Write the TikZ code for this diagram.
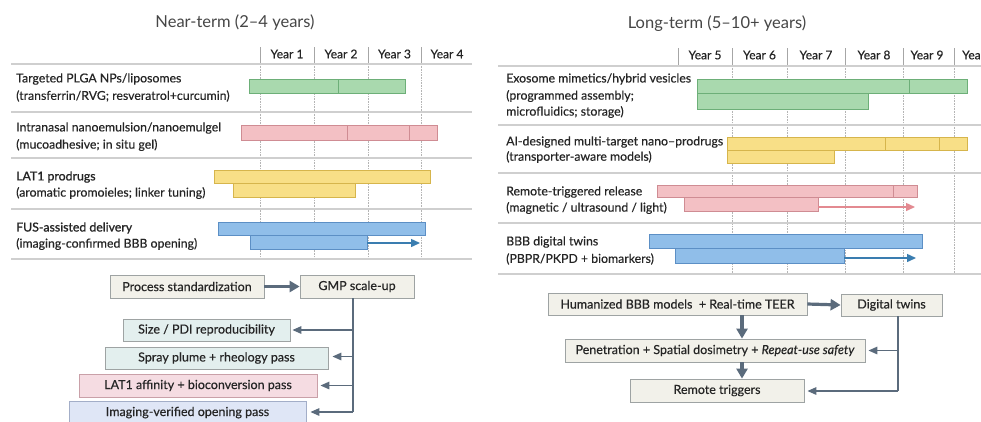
\documentclass[tikz,border=0pt]{standalone}
\usepackage{fontspec}
\setmainfont{Lato}
\newfontfamily\medfont{Lato}[FakeBold=0.35]
\newfontfamily\semifont{Lato}[FakeBold=1.1]
\usetikzlibrary{arrows.meta}
\definecolor{txt}{HTML}{252525}
\definecolor{rule}{HTML}{CFCFCF}
\definecolor{dotc}{HTML}{B5B5B5}
\definecolor{gF}{HTML}{A9D9AE}\definecolor{gD}{HTML}{6DAF78}
\definecolor{pF}{HTML}{F3C0C4}\definecolor{pD}{HTML}{CF8C93}
\definecolor{yF}{HTML}{F8DF87}\definecolor{yD}{HTML}{D6B54C}
\definecolor{bF}{HTML}{90BEE9}\definecolor{bD}{HTML}{5C8FC5}
\definecolor{bA}{HTML}{3A7DB0}\definecolor{pA}{HTML}{E38A91}
\definecolor{flow}{HTML}{5B6B7C}
\definecolor{beige}{HTML}{F2F1EA}\definecolor{boxD}{HTML}{9EA3A3}
\definecolor{teal}{HTML}{E3EFEE}
\definecolor{pinkbox}{HTML}{F5DCE2}\definecolor{pinkD}{HTML}{C9A0A8}
\definecolor{lav}{HTML}{DFE6F6}\definecolor{lavD}{HTML}{A3AEC8}
\tikzset{
  rowtxt/.style={anchor=west, text=txt, font=\medfont\fontsize{12.3}{14}\selectfont, inner sep=0},
  yeartxt/.style={text=txt, font=\medfont\fontsize{12}{14}\selectfont, inner sep=0},
  title/.style={text=txt!85, font=\fontsize{16.5}{19}\selectfont},
  hrule/.style={draw=rule, line width=1.2pt},
  hcol/.style={draw=rule!80!black, line width=0.8pt},
  dotl/.style={draw=dotc, densely dotted, line width=0.6pt},
  gbar/.style={fill=gF, draw=gD, line width=0.7pt},
  pbar/.style={fill=pF, draw=pD, line width=0.7pt},
  ybar/.style={fill=yF, draw=yD, line width=0.7pt},
  bbar/.style={fill=bF, draw=bD, line width=0.7pt},
  barrow/.style={draw=bA, line width=1.4pt, -{Triangle[length=9pt,width=8pt]}},
  parrow/.style={draw=pA, line width=1.4pt, -{Triangle[length=9pt,width=8pt]}},
  flowbox/.style={draw=boxD, line width=0.8pt, fill=beige, text=txt, inner sep=0,
    font=\medfont\fontsize{12.5}{14}\selectfont},
  thick arrow/.style={draw=flow, line width=3.2pt, -{Triangle[length=10pt,width=11pt]}},
  thin arrow/.style={draw=flow, line width=1.5pt, -{Triangle[length=9pt,width=7.5pt]}},
  flowline/.style={draw=flow, line width=1.5pt},
}
\begin{document}
\begin{tikzpicture}[x=1pt,y=-1pt]
\useasboundingbox (0,0) rectangle (981,421);
\fill[white] (0,0) rectangle (981,421);
\clip (0,0) rectangle (981,421);

% ================= LEFT PANEL =================
\node[title] (tl) at (235,23) {Near-term (2–4 years)};
\foreach \x in {260,314,368,421} \draw[hcol] (\x,47) -- (\x,64);
\foreach \x in {260,314,368,421} \draw[dotl] (\x,64) -- (\x,259);
\node[yeartxt] (y1) at (287,54) {Year 1};
\node[yeartxt] (y2) at (341,54) {Year 2};
\node[yeartxt] (y3) at (394.5,54) {Year 3};
\node[yeartxt] (y4) at (447,54) {Year 4};
\draw[hrule] (11,64) -- (472,64);
\foreach \y in {112,158,209,259} \draw[hrule] (11,\y) -- (472,\y);
\node[rowtxt] (l1a) at (16,79) {Targeted PLGA NPs/liposomes};
\node[rowtxt] (l1b) at (16,96) {(transferrin/RVG; resveratrol+curcumin)};
\node[rowtxt] (l2a) at (16,128) {Intranasal nanoemulsion/nanoemulgel};
\node[rowtxt] (l2b) at (16,145) {(mucoadhesive; in situ gel)};
\node[rowtxt] (l3a) at (16,177) {\semifont LAT1 prodrugs};
\node[rowtxt] (l3b) at (16,193) {(aromatic promoieles; linker tuning)};
\node[rowtxt] (l4a) at (16,228) {\semifont FUS-assisted delivery};
\node[rowtxt] (l4b) at (16,244) {(imaging-confirmed BBB opening)};
\draw[gbar] (249,79) rectangle (405,93);
\draw[gD, line width=0.7pt] (338,79) -- (338,93);
\draw[pbar] (241,125) rectangle (437,140);
\draw[pD, line width=0.7pt] (347,125) -- (347,140) (409,125) -- (409,140);
\draw[ybar] (214,170) rectangle (430,183);
\draw[ybar] (233,183) rectangle (355,197);
\draw[bbar] (218,222) rectangle (425,235);
\draw[bbar] (250,235) rectangle (367,249);
\coordinate (la0) at (367,243);
\coordinate (la1) at (420,243);
\draw[barrow] (la0) -- (la1);

\node[flowbox, minimum width=154pt, minimum height=23pt] (proc) at (187,286.5) {Process standardization};
\node[flowbox, minimum width=114pt, minimum height=23pt] (gmp) at (357,286.5) {GMP scale-up};
\draw[thick arrow] (proc.east) -- (gmp.west);
\node[flowbox, fill=teal, minimum width=167pt, minimum height=22pt] (size) at (206.5,330) {Size / PDI reproducibility};
\node[flowbox, fill=teal, minimum width=223pt, minimum height=22pt] (spray) at (216.5,358) {Spray plume + rheology pass};
\node[flowbox, fill=pinkbox, draw=pinkD, minimum width=238pt, minimum height=23pt] (lat) at (198,385.5) {LAT1 affinity + bioconversion pass};
\node[flowbox, fill=lav, draw=lavD, minimum width=237pt, minimum height=23pt, anchor=north] (img) at (187.5,401) {\raisebox{3pt}{Imaging-verified opening pass}};
\coordinate (vl) at (353,412);
\draw[flowline] (gmp.south -| vl) -- (vl);
\draw[thin arrow, shorten >=2pt] (size.east -| vl) -- (size.east);
\draw[thin arrow, shorten >=4pt] ([yshift=1.5pt]spray.east -| vl) -- ([yshift=1.5pt]spray.east);
\draw[thin arrow, shorten >=3pt] (lat.east -| vl) -- (lat.east);
\draw[thin arrow, shorten >=4pt] (vl) -- (vl -| img.east);

% ================= RIGHT PANEL =================
\node[title] (tr) at (717,24) {Long-term (5–10+ years)};
\foreach \x in {678,732,787,845,903,954} \draw[hcol] (\x,48) -- (\x,66);
\foreach \x in {732,787,845,903,954} \draw[dotl] (\x,66) -- (\x,274);
\node[yeartxt] (y5) at (705,55) {Year 5};
\node[yeartxt] (y6) at (759.5,55) {Year 6};
\node[yeartxt] (y7) at (816,55) {Year 7};
\node[yeartxt] (y8) at (874,55) {Year 8};
\node[yeartxt] (y9) at (927,55) {Year 9};
\node[yeartxt, anchor=west] (y10) at (962,55) {Year 10};
\draw[hrule] (498,66) -- (990,66);
\foreach \y in {125,173,223,274} \draw[hrule] (498,\y) -- (990,\y);
\node[rowtxt] (r1a) at (506,79) {Exosome mimetics/hybrid vesicles};
\node[rowtxt] (r1b) at (506,96) {(programmed assembly;};
\node[rowtxt] (r1c) at (506,112) {microfluidics; storage)};
\node[rowtxt] (r2a) at (506,142) {AI-designed multi-target nano–prodrugs};
\node[rowtxt] (r2b) at (506,157) {(transporter-aware models)};
\node[rowtxt] (r3a) at (506,192) {Remote-triggered release};
\node[rowtxt] (r3b) at (506,208) {(magnetic / ultrasound / light)};
\node[rowtxt] (r4a) at (506,242) {BBB digital twins};
\node[rowtxt] (r4b) at (506,259) {(PBPR/PKPD + biomarkers)};
\draw[gbar] (697,79) rectangle (967,93);
\draw[gD, line width=0.7pt] (909,79) -- (909,93);
\draw[gbar] (697,93) rectangle (868,109);
\draw[ybar] (727,137) rectangle (967,150);
\draw[yD, line width=0.7pt] (885,137) -- (885,150) (939,137) -- (939,150);
\draw[ybar] (727,150) rectangle (834,163);
\draw[pbar] (657,185) rectangle (917,197);
\draw[pD, line width=0.7pt] (893,185) -- (893,197);
\draw[pbar] (684,197) rectangle (818,211);
\coordinate (ra0) at (818,207);
\coordinate (ra1) at (915,207);
\draw[parrow] (ra0) -- (ra1);
\draw[bbar] (649,234) rectangle (922,248);
\draw[bbar] (675,248) rectangle (844,263);
\coordinate (rb0) at (844,258);
\coordinate (rb1) at (916,258);
\draw[barrow] (rb0) -- (rb1);

\node[flowbox, minimum width=259pt, minimum height=22pt] (hum) at (677.5,304) {Humanized BBB models\ \ + Real-time TEER};
\node[flowbox, minimum width=101pt, minimum height=22pt] (dig) at (891.5,305) {Digital twins};
\draw[thick arrow] (hum.east) -- (dig.west);
\node[flowbox, minimum width=300pt, minimum height=23pt] (pen) at (715,350.5) {Penetration + Spatial dosimetry + \textit{Repeat-use safety}};
\node[flowbox, minimum width=174pt, minimum height=23pt] (rem) at (717,390.5) {Remote triggers};
\coordinate (dx) at (742,0);
\draw[thick arrow] (hum.south -| dx) -- (pen.north -| dx);
\draw[thick arrow] (pen.south -| dx) -- (rem.north -| dx);
\coordinate (vr) at (898,391);
\draw[flowline] (dig.south -| vr) -- (vr);
\draw[thin arrow, shorten >=3pt] (pen.east -| vr) -- (pen.east);
\draw[thin arrow, shorten >=3pt] (vr) -- (vr -| rem.east);
\end{tikzpicture}
\end{document}
